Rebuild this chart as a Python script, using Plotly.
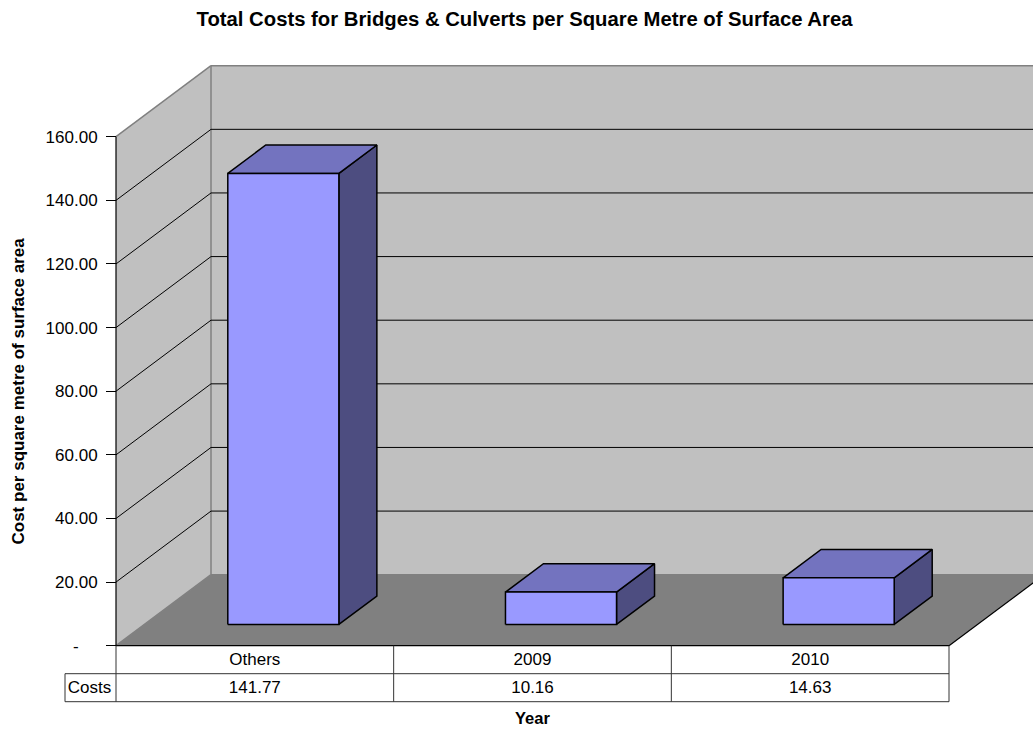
import plotly.graph_objects as go

categories = ["Others", "2009", "2010"]
costs = [141.77, 10.16, 14.63]
y_ticks = [0, 20, 40, 60, 80, 100, 120, 140, 160]
y_tick_labels = ["-\u00a0\u00a0\u00a0\u00a0", "20.00", "40.00", "60.00", "80.00", "100.00", "120.00", "140.00", "160.00"]
series_name = "Costs"

W, H = 1033, 730
X0_PX, Y0_PX = 116.0, 645.7
CAT_PX = (949.0 - 116.0) / 3
UNIT_PX = (645.0 - 136.0) / 160
DX = 95.0 / CAT_PX      # depth offset in category units
DY = 71.0 / UNIT_PX     # depth offset in value units
X_RANGE = [-X0_PX / CAT_PX, (W - X0_PX) / CAT_PX]
Y_RANGE = [-(H - Y0_PX) / UNIT_PX, Y0_PX / UNIT_PX]
YMAX = y_ticks[-1]
N = len(categories)
FONT = "Liberation Sans, Arial, sans-serif"
TXT = 17
BAR_W = 0.4
Z_NEAR, Z_FAR = 0.3, 0.7
ROW1 = -28.0 / UNIT_PX
ROW2 = -56.0 / UNIT_PX
COSTS_LEFT = (65.0 - X0_PX) / CAT_PX


def proj(x, y, z=0.0):
    return x + z * DX, y + z * DY


def poly(points, fill=None, line=None, width=1.0):
    xs, ys = zip(*[proj(*p) for p in points])
    return go.Scatter(
        x=list(xs), y=list(ys), mode="lines", hoverinfo="skip", showlegend=False,
        fill="toself" if fill else None, fillcolor=fill,
        line=dict(color=line or "rgba(0,0,0,0)", width=width if line else 0),
    )


def segs(pairs, color="#000000", width=1.0):
    xs, ys = [], []
    for a, b in pairs:
        ax, ay = proj(*a)
        bx, by = proj(*b)
        xs += [ax, bx, None]
        ys += [ay, by, None]
    return go.Scatter(x=xs, y=ys, mode="lines", hoverinfo="skip", showlegend=False,
                      line=dict(color=color, width=width))


fig = go.Figure()
XR = N + 1.0  # wall runs past the page edge

# Walls and floor
fig.add_trace(poly([(0, 0, 0), (0, YMAX, 0), (0, YMAX, 1), (0, 0, 1), (0, 0, 0)], "#C0C0C0"))
fig.add_trace(poly([(0, 0, 1), (0, YMAX, 1), (XR, YMAX, 1), (XR, 0, 1), (0, 0, 1)], "#C0C0C0"))
fig.add_trace(poly([(0, 0, 0), (N, 0, 0), (N, 0, 1), (0, 0, 1), (0, 0, 0)], "#808080"))

# Wall outlines
fig.add_trace(segs([((0, YMAX, 0), (0, YMAX, 1)), ((0, YMAX, 1), (XR, YMAX, 1)),
                    ((0, 0, 1), (0, YMAX, 1)), ((0, 0, 0), (0, 0, 1)),
                    ((0, 0, 1), (N, 0, 1))], "#808080", 1.5))

# Gridlines
grid = [t for t in y_ticks if 0 < t < YMAX]
fig.add_trace(segs([((0, t, 0), (0, t, 1)) for t in grid] +
                   [((0, t, 1), (XR, t, 1)) for t in grid], "#000000", 1.0))

# Floor front and right edges, axis line
fig.add_trace(segs([((0, 0, 0), (N, 0, 0)), ((N, 0, 0), (N, 0, 1)),
                    ((0, 0, 0), (0, YMAX, 0))], "#000000", 1.2))

# Bars
for i, v in enumerate(costs):
    x1 = i + 0.5 - BAR_W / 2
    x2 = i + 0.5 + BAR_W / 2
    b = 0
    fig.add_trace(poly([(x2, b, Z_NEAR), (x2, b, Z_FAR), (x2, v, Z_FAR), (x2, v, Z_NEAR), (x2, b, Z_NEAR)],
                       "#4D4D80", "#000000", 1.5))
    fig.add_trace(poly([(x1, v, Z_NEAR), (x2, v, Z_NEAR), (x2, v, Z_FAR), (x1, v, Z_FAR), (x1, v, Z_NEAR)],
                       "#7373BF", "#000000", 1.5))
    fig.add_trace(poly([(x1, b, Z_NEAR), (x2, b, Z_NEAR), (x2, v, Z_NEAR), (x1, v, Z_NEAR), (x1, b, Z_NEAR)],
                       "#9999FF", "#000000", 1.5))

# Data table
table = [((0, ROW1), (N, ROW1)), ((COSTS_LEFT, ROW1), (0, ROW1)),
         ((COSTS_LEFT, ROW2), (N, ROW2)), ((COSTS_LEFT, ROW1), (COSTS_LEFT, ROW2))]
table += [((i, 0), (i, ROW2)) for i in range(N + 1)]
fig.add_trace(segs(table, "#333333", 1.0))
ROW_TEXT = (ROW1 + ROW2) / 2 - 1.0 / UNIT_PX
fig.add_trace(go.Scatter(
    x=[i + 0.5 for i in range(N)], y=[ROW_TEXT] * N, mode="text",
    text=[f"{v:.2f}" for v in costs], textposition="middle center",
    textfont=dict(family=FONT, size=TXT, color="#000000"), hoverinfo="skip", showlegend=False))
fig.add_trace(go.Scatter(
    x=[COSTS_LEFT / 2 - 1.0 / CAT_PX], y=[ROW_TEXT], mode="text", text=[series_name],
    textposition="middle center", textfont=dict(family=FONT, size=TXT, color="#000000"),
    hoverinfo="skip", showlegend=False))

fig.update_layout(
    width=W, height=H, margin=dict(l=0, r=0, t=0, b=0), autosize=False,
    paper_bgcolor="#FFFFFF", plot_bgcolor="#FFFFFF", showlegend=False,
    font=dict(family=FONT, size=TXT, color="#000000"),
    title=dict(text="<b>Total Costs for Bridges & Culverts per Square Metre of Surface Area</b>",
               x=524.5 / W, xanchor="center", y=1 - 19.0 / H, yanchor="middle",
               font=dict(family=FONT, size=20.3, color="#000000")),
    xaxis=dict(range=X_RANGE, domain=[0, 1], anchor="free", position=(H - Y0_PX) / H,
               tickmode="array", tickvals=[i + 0.5 for i in range(N)], ticktext=categories,
               ticks="", showgrid=False, zeroline=False, showline=False, automargin=False,
               ticklabelstandoff=1,
               tickfont=dict(family=FONT, size=TXT)),
    yaxis=dict(range=Y_RANGE, domain=[0, 1], anchor="free", position=X0_PX / W,
               tickmode="array", tickvals=y_ticks, ticktext=y_tick_labels,
               ticks="outside", ticklen=10, tickwidth=1, tickcolor="#000000",
               showgrid=False, zeroline=False, showline=False, automargin=False,
               ticklabelstandoff=5,
               tickfont=dict(family=FONT, size=TXT)),
    annotations=[
        dict(text="<b>Year</b>", xref="paper", yref="paper", x=532.5 / W, y=1 - 718.0 / H,
             xanchor="center", yanchor="middle", showarrow=False,
             font=dict(family=FONT, size=16.5, color="#000000")),
        dict(text="<b>Cost per square metre of surface area</b>", xref="paper", yref="paper",
             x=18.0 / W, y=1 - 391.5 / H, textangle=-90, xanchor="center", yanchor="middle",
             showarrow=False, font=dict(family=FONT, size=TXT, color="#000000")),
    ],
)

fig.write_html("out.html", config={"displayModeBar": False},
               post_script="document.body.style.margin='0';document.documentElement.style.overflow='hidden';")
